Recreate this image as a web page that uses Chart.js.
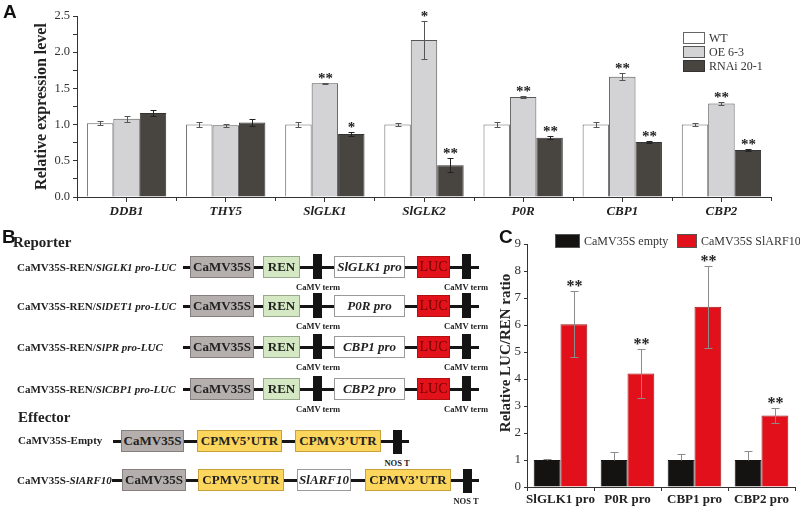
<!DOCTYPE html>
<html>
<head>
<meta charset="utf-8">
<script src="https://cdn.jsdelivr.net/npm/chart.js@4.4.1/dist/chart.umd.min.js"></script>
<style>
  body { margin: 0; background: #fff; }
  #page { position: relative; width: 800px; height: 509px; overflow: hidden; background: #fff;
          font-family: 'Liberation Serif', 'Times New Roman', serif; color: #222; }
  canvas { position: absolute; }
  .panel { position: absolute; font: bold 19px 'Liberation Sans', Arial, sans-serif; color: #111; line-height: 19px; }
  .head { position: absolute; font-weight: bold; font-size: 15px; line-height: 16px; }
  .lbl { position: absolute; font-weight: bold; font-size: 11px; white-space: nowrap; line-height: 14px; }
  .line { position: absolute; height: 3px; background: #151515; }
  .box { position: absolute; box-sizing: border-box; border: 1px solid #888; display: flex;
         align-items: center; justify-content: center; font-weight: bold; font-size: 13px; white-space: nowrap; }
  .term { position: absolute; background: #141414; }
  .small { position: absolute; font-weight: bold; font-size: 8.5px; white-space: nowrap; line-height: 10px; transform: translateX(-50%); }
</style>
</head>
<body>
<div id="page">
  <canvas id="chart-a" width="790" height="230" style="left:0;top:0;width:790px;height:230px"></canvas>
  <canvas id="chart-c" width="370" height="284" style="left:430px;top:225px;width:370px;height:284px"></canvas>
  <div class="panel" style="left:3px;top:2px">A</div>
  <div class="panel" style="left:2px;top:227px">B</div>
  <div class="panel" style="left:499px;top:227px">C</div>
  <div class="head" style="left:13px;top:234px">Reporter</div>
  <div class="head" style="left:18px;top:409px">Effector</div>
  <div id="diagram"></div>
</div>
<script>
// Panel A data
const genes = ['DDB1', 'THY5', 'SlGLK1', 'SlGLK2', 'P0R', 'CBP1', 'CBP2'];
const wtVals = [1.02, 1.00, 1.00, 1.00, 1.00, 1.00, 1.00];
const wtErr = [0.03, 0.03, 0.04, 0.02, 0.03, 0.03, 0.02];
const oeVals = [1.08, 0.99, 1.57, 2.17, 1.38, 1.66, 1.29];
const oeErr = [0.04, 0.02, 0.01, 0.26, 0.01, 0.05, 0.02];
const rnaiVals = [1.16, 1.03, 0.87, 0.44, 0.82, 0.76, 0.65];
const rnaiErr = [0.04, 0.05, 0.03, 0.10, 0.02, 0.02, 0.01];
const oeStars = ['', '', '**', '*', '**', '**', '**'];
const rnaiStars = ['', '', '*', '**', '**', '**', '**'];
const yTicksA = [0, 0.5, 1.0, 1.5, 2.0, 2.5];

// Panel C data
const promoters = ['SlGLK1 pro', 'P0R pro', 'CBP1 pro', 'CBP2 pro'];
const emptyVals = [1.00, 1.00, 1.00, 1.00];
const emptyErr = [0.03, 0.30, 0.22, 0.35];
const arfVals = [6.03, 4.20, 6.68, 2.65];
const arfErr = [1.23, 0.92, 1.52, 0.28];
const arfStars = ['**', '**', '**', '**'];

// Panel B constructs
const reporterNames = ['SlGLK1 pro-LUC', 'SlDET1 pro-LUC', 'SlPR pro-LUC', 'SlCBP1 pro-LUC'];
const reporterPromoters = ['SlGLK1 pro', 'P0R pro', 'CBP1 pro', 'CBP2 pro'];

const SERIF = "'Liberation Serif', 'Times New Roman', serif";

// error bars + significance stars, positioned through the y scale
const errorBars = {
    id: 'errorBars',
    afterDatasetsDraw(chart, args, opts) {
        const ctx = chart.ctx;
        const y = chart.scales.y;
        chart.data.datasets.forEach((ds, i) => {
            if (!ds.errors) return;
            const meta = chart.getDatasetMeta(i);
            meta.data.forEach((bar, j) => {
                const v = ds.data[j], e = ds.errors[j];
                const top = Math.round(y.getPixelForValue(v + e)) + 0.5;
                const bot = Math.round(y.getPixelForValue(ds.errUpOnly ? v : v - e)) + 0.5;
                const x = Math.round(bar.x) + 0.5;
                ctx.save();
                ctx.strokeStyle = ds.errorColor;
                ctx.lineWidth = 1;
                ctx.beginPath();
                ctx.moveTo(x, top); ctx.lineTo(x, bot);
                ctx.moveTo(x - opts.cap, top); ctx.lineTo(x + opts.cap, top);
                if (!ds.errUpOnly) { ctx.moveTo(x - opts.cap, bot); ctx.lineTo(x + opts.cap, bot); }
                ctx.stroke();
                if (ds.stars && ds.stars[j]) {
                    ctx.fillStyle = '#222';
                    ctx.font = opts.starFont;
                    ctx.textAlign = 'center';
                    ctx.textBaseline = 'alphabetic';
                    ctx.fillText(ds.stars[j], x, top - opts.starGap);
                }
                ctx.restore();
            });
        });
    }
};

// small legend boxes placed inside the figure
const boxLegend = {
    id: 'boxLegend',
    afterDraw(chart, args, opts) {
        const ctx = chart.ctx;
        opts.items.forEach((it, i) => {
            const ds = chart.data.datasets[i];
            ctx.save();
            ctx.fillStyle = ds.backgroundColor;
            ctx.fillRect(it.x, it.y, it.w, it.h);
            ctx.strokeStyle = opts.boxBorder || ds.borderColor;
            ctx.lineWidth = 1;
            ctx.strokeRect(it.x + 0.5, it.y + 0.5, it.w - 1, it.h - 1);
            ctx.fillStyle = '#333';
            ctx.font = opts.font;
            ctx.textBaseline = 'middle';
            ctx.textAlign = 'left';
            ctx.fillText(ds.label, it.x + it.w + 4, it.y + it.h / 2 + 1);
            ctx.restore();
        });
    }
};

// extra tick marks on the category axis (group boundaries) + free axis title
const axisExtras = {
    id: 'axisExtras',
    afterDraw(chart, args, opts) {
        const ctx = chart.ctx;
        const xs = chart.scales.x;
        ctx.save();
        if (opts.boundaryTicks) {
            ctx.strokeStyle = '#333';
            ctx.lineWidth = 1;
            ctx.beginPath();
            const n = xs.ticks.length;
            for (let i = 0; i <= n; i++) {
                const px = Math.round(xs.left + i * (xs.right - xs.left) / n) + 0.5;
                ctx.moveTo(px, xs.top); ctx.lineTo(px, xs.top + opts.boundaryTicks);
            }
            ctx.stroke();
        }
        if (opts.yTitle) {
            ctx.translate(opts.yTitle.x, opts.yTitle.y);
            ctx.rotate(-Math.PI / 2);
            ctx.fillStyle = '#222';
            ctx.font = opts.yTitle.font;
            ctx.textAlign = 'center';
            ctx.textBaseline = 'middle';
            ctx.fillText(opts.yTitle.text, 0, 0);
        }
        ctx.restore();
    }
};

// ---- Chart A ----
new Chart(document.getElementById('chart-a'), {
    type: 'bar',
    data: {
        labels: genes,
        datasets: [
            { label: 'WT', data: wtVals, errors: wtErr, backgroundColor: '#ffffff', borderColor: '#666',
              errorColor: '#555', borderWidth: 1 },
            { label: 'OE 6-3', data: oeVals, errors: oeErr, stars: oeStars, backgroundColor: '#d3d3d5',
              borderColor: '#555', errorColor: '#555', borderWidth: 1 },
            { label: 'RNAi 20-1', data: rnaiVals, errors: rnaiErr, stars: rnaiStars, backgroundColor: '#48443f',
              borderColor: '#333', errorColor: '#222', borderWidth: 1 }
        ]
    },
    options: {
        responsive: false,
        animation: false,
        layout: { padding: { left: 32, top: 16, right: 19, bottom: 0 } },
        datasets: { bar: { categoryPercentage: 0.8, barPercentage: 1.0, borderSkipped: 'start' } },
        scales: {
            x: {
                offset: true,
                grid: { offset: false, drawOnChartArea: false, tickLength: 5, color: '#333' },
                border: { color: '#333' },
                ticks: { color: '#222', padding: 2, maxRotation: 0, autoSkip: false,
                         font: { family: SERIF, size: 13, weight: 'bold', style: 'italic' } },
                afterFit: s => { s.height = 33; }
            },
            y: {
                min: 0, max: 2.5,
                grid: { drawOnChartArea: false, tickLength: 4, color: '#333' },
                border: { color: '#333' },
                ticks: {
                    stepSize: 0.25, padding: 3, color: '#333', font: { family: SERIF, size: 12.5 },
                    callback: v => yTicksA.some(t => Math.abs(t - v) < 1e-6) ? v.toFixed(1) : ''
                },
                title: { display: true, text: 'Relative expression level', color: '#222', padding: 0,
                         font: { family: SERIF, size: 16, weight: 'bold' } },
                afterFit: s => { s.width = 45; }
            }
        },
        plugins: {
            legend: { display: false },
            tooltip: { enabled: false },
            errorBars: { cap: 3, starFont: `bold 15px ${SERIF}`, starGap: 1 },
            boxLegend: {
                font: `12px ${SERIF}`,
                items: [
                    { x: 683, y: 32, w: 22, h: 12 },
                    { x: 683, y: 46, w: 22, h: 12 },
                    { x: 683, y: 60, w: 22, h: 12 }
                ]
            },
            axisExtras: { boundaryTicks: 4 }
        }
    },
    plugins: [errorBars, boxLegend, axisExtras]
});

// ---- Chart C ----
new Chart(document.getElementById('chart-c'), {
    type: 'bar',
    data: {
        labels: promoters,
        datasets: [
            { label: 'CaMV35S empty', data: emptyVals, errors: emptyErr, errUpOnly: true, backgroundColor: '#141311',
              borderColor: '#141311', errorColor: '#8c8c8c', borderWidth: 1 },
            { label: 'CaMV35S SlARF10', data: arfVals, errors: arfErr, stars: arfStars, backgroundColor: '#e2101a',
              borderColor: '#9a1515', errorColor: '#8c8c8c', borderWidth: 1 }
        ]
    },
    options: {
        responsive: false,
        animation: false,
        layout: { padding: { left: 67, top: 19, right: 5, bottom: 0 } },
        datasets: { bar: { categoryPercentage: 0.8, barPercentage: 1.0, borderSkipped: 'start' } },
        scales: {
            x: {
                offset: true,
                grid: { offset: true, drawOnChartArea: false, tickLength: 4, color: '#333' },
                border: { color: '#333' },
                ticks: { color: '#222', padding: 1, maxRotation: 0, minRotation: 0, autoSkip: false,
                         font: { family: SERIF, size: 13, weight: 'bold' } },
                afterFit: s => { s.height = 22; }
            },
            y: {
                min: 0, max: 9,
                grid: { drawOnChartArea: false, tickLength: 3, color: '#333' },
                border: { color: '#333' },
                ticks: {
                    stepSize: 0.5, padding: 3, color: '#333', font: { family: SERIF, size: 13 },
                    callback: v => Number.isInteger(v) ? String(v) : ''
                },
                afterFit: s => { s.width = 30; }
            }
        },
        plugins: {
            legend: { display: false },
            tooltip: { enabled: false },
            errorBars: { cap: 4, starFont: `bold 16px ${SERIF}`, starGap: 1 },
            boxLegend: {
                font: `12px ${SERIF}`,
                boxBorder: '#555',
                items: [
                    { x: 125, y: 9, w: 25, h: 14 },
                    { x: 247, y: 9, w: 20, h: 14 }
                ]
            },
            axisExtras: { yTitle: { text: 'Relative LUC/REN ratio', x: 76, y: 128, font: `bold 15px ${SERIF}` } }
        }
    },
    plugins: [errorBars, boxLegend, axisExtras]
});

// ---- Panel B diagram ----
const diagram = document.getElementById('diagram');

function el(cls, style, html) {
    const d = document.createElement('div');
    d.className = cls;
    Object.assign(d.style, style);
    if (html) d.innerHTML = html;
    diagram.appendChild(d);
    return d;
}
function line(x1, x2, cy) {
    el('line', { left: x1 + 'px', width: (x2 - x1) + 'px', top: (cy - 1.5) + 'px' });
}
function box(x1, x2, cy, bg, border, html, extra) {
    el('box', Object.assign({ left: x1 + 'px', width: (x2 - x1) + 'px', top: (cy - 11) + 'px', height: '22px',
        background: bg, borderColor: border }, extra || {}), html);
}
function term(x, cy, top, bottom) {
    el('term', { left: x + 'px', width: '9px', top: (cy - top) + 'px', height: (top + bottom) + 'px' });
}
function small(cx, y, text) {
    el('small', { left: cx + 'px', top: y + 'px' }, text);
}

const gray = ['#b4aeac', '#857f7d'];
const green = ['#d4e8c4', '#97a88c'];
const white = ['#ffffff', '#9a9a9a'];
const red = ['#e31119', '#b01010'];
const yellow = ['#fcd55c', '#c7a23a'];

const reporterY = [267, 306, 347, 389];
reporterNames.forEach((name, i) => {
    const cy = reporterY[i];
    el('lbl', { left: '17px', top: (cy - 7) + 'px' }, `CaMV35S-REN/<i>${name}</i>`);
    line(183, 479, cy);
    box(190, 254, cy, gray[0], gray[1], 'CaMV35S');
    box(263, 300, cy, green[0], green[1], 'REN');
    term(313, cy, 13, 12);
    box(334, 405, cy, white[0], white[1], `<i>${reporterPromoters[i]}</i>`);
    box(417, 450, cy, red[0], red[1], 'LUC', { color: '#6e0000', fontWeight: 'normal', fontSize: '14px' });
    term(462, cy, 13, 12);
    small(318, cy + 15, 'CaMV term');
    small(466, cy + 15, 'CaMV term');
});

// effector 1
let cy = 441;
el('lbl', { left: '18px', top: (cy - 8) + 'px' }, 'CaMV35S-Empty');
line(113, 409, cy);
box(121, 184, cy, gray[0], gray[1], 'CaMV35S');
box(197, 282, cy, yellow[0], yellow[1], 'CPMV5’UTR');
box(295, 381, cy, yellow[0], yellow[1], 'CPMV3’UTR');
term(393, cy, 11, 13);
small(397, 458, 'NOS T');

// effector 2
cy = 480;
el('lbl', { left: '17px', top: (cy - 7) + 'px' }, 'CaMV35S-<i>SlARF10</i>');
line(112, 479, cy);
box(122, 186, cy, gray[0], gray[1], 'CaMV35S');
box(198, 284, cy, yellow[0], yellow[1], 'CPMV5’UTR');
box(297, 351, cy, white[0], white[1], '<i>SlARF10</i>');
box(365, 451, cy, yellow[0], yellow[1], 'CPMV3’UTR');
term(463, cy, 11, 13);
small(466, 496, 'NOS T');
</script>
</body>
</html>
